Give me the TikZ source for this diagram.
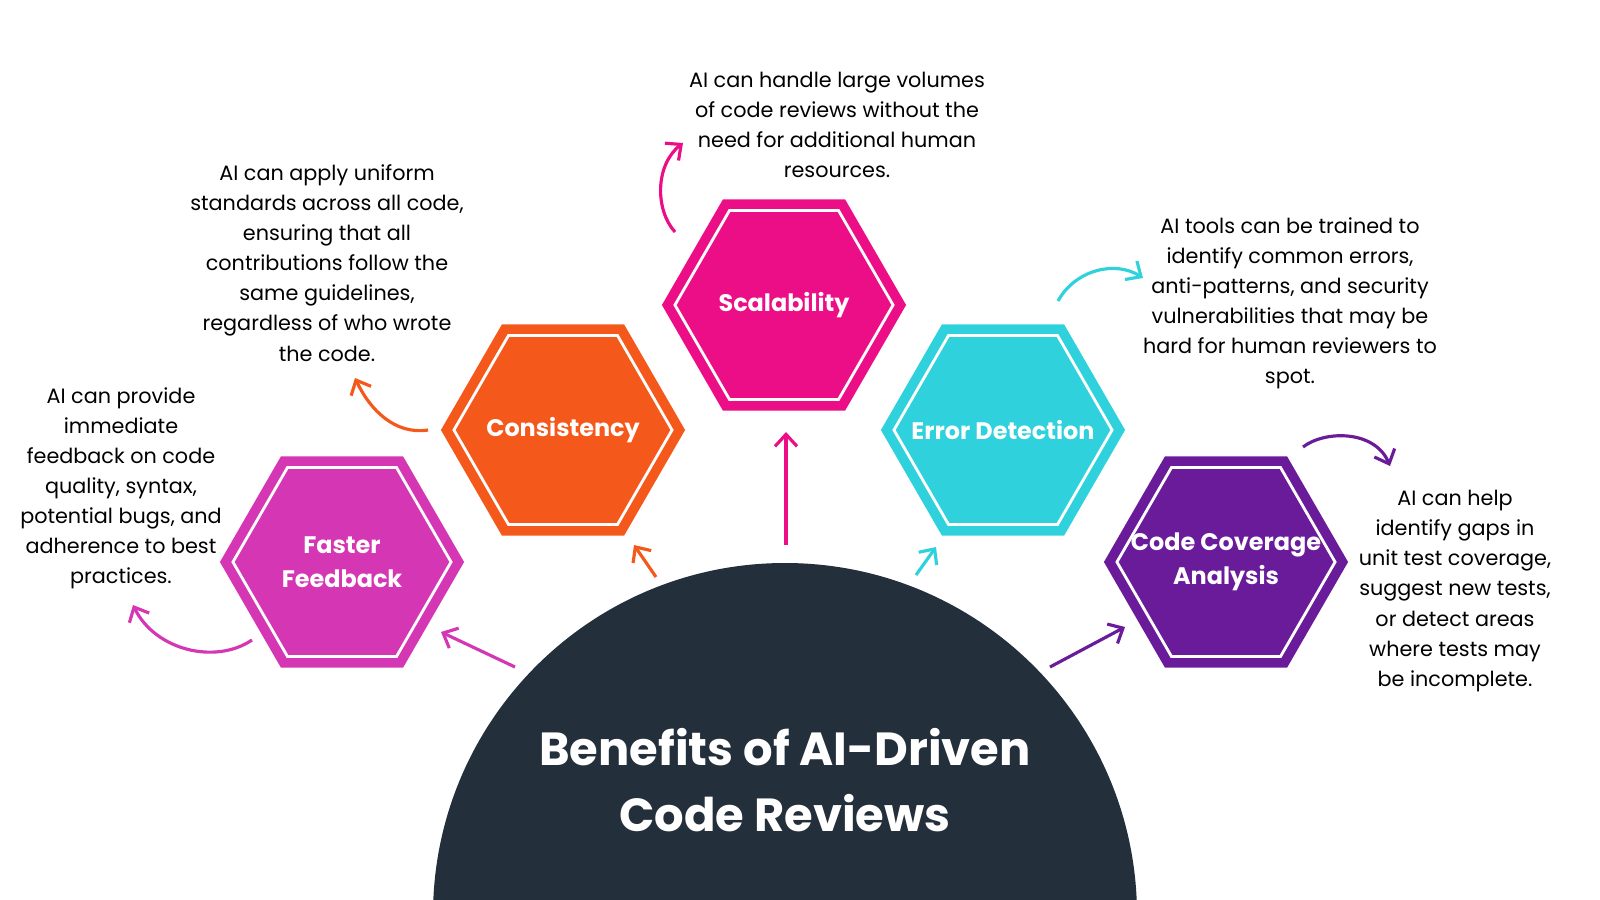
\documentclass[tikz,border=0pt]{standalone}
\usepackage{fontspec}
\setmainfont{Poppins}
\usetikzlibrary{shapes.geometric,arrows.meta,positioning,calc}
\definecolor{ffpink}{HTML}{D436B4}
\definecolor{consor}{HTML}{F4581A}
\definecolor{scalpk}{HTML}{EC0E87}
\definecolor{errcy}{HTML}{2FD2DC}
\definecolor{covpu}{HTML}{6A1B9A}
\definecolor{navy}{HTML}{232F3B}
\tikzset{
  hexa/.style={regular polygon, regular polygon sides=6, minimum size=2.44cm, inner sep=0pt, fill=#1},
  hexin/.style={regular polygon, regular polygon sides=6, minimum size=2.18cm, inner sep=0pt, draw=white, line width=0.8pt},
  hexlab/.style={text=white, font=\fontsize{6.8}{9.6}\selectfont\bfseries, align=center},
  note/.style={align=center, font=\fontsize{5.9}{8.55}\selectfont, text=black},
  ray/.style={-{Straight Barb[length=1.2mm,width=2.2mm]}, line width=0.9pt, draw=#1},
}
\begin{document}
\begin{tikzpicture}[x=0.01cm,y=-0.01cm]
    \useasboundingbox (0,0) rectangle (1600,900);
    % central half disc
    \begin{scope}
      \clip (0,0) rectangle (1600,900);
      \fill[navy] (785,915) circle[radius=352];
    \end{scope}
    \node[font=\fontsize{13.2}{19}\selectfont\bfseries, text=white, align=center] (title) at (785,780) {Benefits of AI-Driven\\Code Reviews};

    % hexagons
    \node[hexa=ffpink] (ff) at (342,562) {};
    \node[hexa=consor] (cons) at (563,430) {};
    \node[hexa=scalpk] (scal) at (784,305) {};
    \node[hexa=errcy] (err) at (1003,430) {};
    \node[hexa=covpu] (cov) at (1226,562) {};
    \foreach \h in {ff,cons,scal,err,cov}
      \node[hexin] at (\h) {};
    \node[hexlab] at (ff) {Faster\\Feedback};
    \node[hexlab] at (cons) {Consistency};
    \node[hexlab] at (scal) {Scalability};
    \node[hexlab] at (err) {Error Detection};
    \node[hexlab] at (cov) {Code Coverage\\Analysis};

    % notes
    \node[note] (ffnote) at (121,488) {AI can provide\\immediate\\feedback on code\\quality, syntax,\\potential bugs, and\\adherence to best\\practices.};
    \node[note] (consnote) at (327,263) {AI can apply uniform\\standards across all code,\\ensuring that all\\contributions follow the\\same guidelines,\\regardless of who wrote\\the code.};
    \node[note] (scalnote) at (837,125) {AI can handle large volumes\\of code reviews without the\\need for additional human\\resources.};
    \node[note] (errnote) at (1290,303) {AI tools can be trained to\\identify common errors,\\anti-patterns, and security\\vulnerabilities that may be\\hard for human reviewers to\\spot.};
    \node[note] (covnote) at (1455,591) {AI can help\\identify gaps in\\unit test coverage,\\suggest new tests,\\or detect areas\\where tests may\\be incomplete.};

    % straight arrows from the disc
    \coordinate (s1) at (515,667); \coordinate (e1) at (441,632);
    \coordinate (s2) at (656,577); \coordinate (e2) at (634,545);
    \coordinate (s3) at (786,545); \coordinate (e3) at (786,432);
    \coordinate (s4) at (916,575); \coordinate (e4) at (936,547);
    \coordinate (s5) at (1050,667); \coordinate (e5) at (1125,627);
    \draw[ray=ffpink] (s1) -- (e1);
    \draw[ray=consor] (s2) -- (e2);
    \draw[ray=scalpk] (s3) -- (e3);
    \draw[ray=errcy] (s4) -- (e4);
    \draw[ray=covpu] (s5) -- (e5);

    % curved arrows to the notes
    \coordinate (c1) at (252,640); \coordinate (d1) at (133,605);
    \coordinate (c2) at (428,430); \coordinate (d2) at (355,378);
    \coordinate (c3) at (675,232); \coordinate (d3) at (683,143);
    \coordinate (c4) at (1058,301); \coordinate (d4) at (1143,278);
    \coordinate (c5) at (1303,447); \coordinate (d5) at (1390,466);
    \draw[ray=ffpink] (c1) .. controls (215,665) and (155,650) .. (d1);
    \draw[ray=consor] (c2) .. controls (395,435) and (370,410) .. (d2);
    \draw[ray=scalpk] (c3) .. controls (655,210) and (655,165) .. (d3);
    \draw[ray=errcy] (c4) .. controls (1075,270) and (1115,260) .. (d4);
    \draw[ray=covpu] (c5) .. controls (1325,430) and (1375,430) .. (d5);
\end{tikzpicture}
\end{document}
